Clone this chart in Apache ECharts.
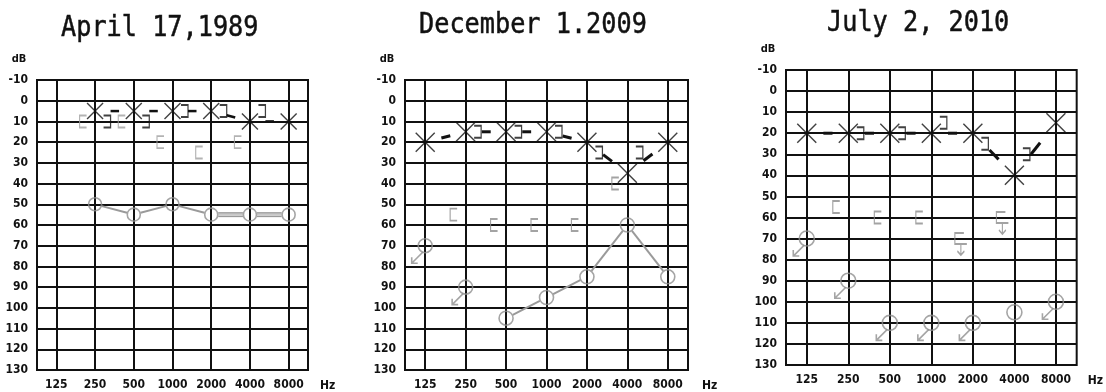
<!DOCTYPE html>
<html><head><meta charset="utf-8">
<script src="https://cdn.jsdelivr.net/npm/echarts@6/dist/echarts.min.js"></script>
<style>html,body{margin:0;padding:0;background:#fff}#c{width:1106px;height:392px}</style>
</head><body><div id="c"></div>
<script>
// ---- data ----
const freqLabels = ['125','250','500','1000','2000','4000','8000'];
const titles = ['April 17,1989', 'December 1.2009', 'July 2, 2010'];

// Panel 1 : April 17, 1989
const p1LeftAir     = [null, 5, 5, 5, 5, 10, 10];
const p1LeftBone    = [null, 10, 10, 5, 5, 5, null];
const p1RightAir    = [null, 50, 55, 50, 55, 55, 55];
const p1RightAirNR  = [0, 0, 0, 0, 0, 0, 0];
const p1RightBone   = [null, 10, 10, 20, 25, 20, null];
const p1RightBoneNR = [0, 0, 0, 0, 0, 0, 0];

// Panel 2 : December 1, 2009
const p2LeftAir     = [20, 15, 15, 15, 20, 35, 20];
const p2LeftBone    = [null, 15, 15, 15, 25, 25, null];
const p2RightAir    = [70, 90, 105, 95, 85, 60, 85];
const p2RightAirNR  = [1, 1, 0, 0, 0, 0, 0];
const p2RightBone   = [null, 55, 60, 60, 60, 40, null];
const p2RightBoneNR = [0, 0, 0, 0, 0, 0, 0];

// Panel 3 : July 2, 2010
const p3LeftAir     = [20, 20, 20, 20, 20, 40, 15];
const p3LeftBone    = [null, 20, 20, 15, 25, 30, null];
const p3RightAir    = [70, 90, 110, 110, 110, 105, 100];
const p3RightAirNR  = [1, 1, 1, 1, 1, 0, 1];
const p3RightBone   = [null, 55, 60, 60, 70, 60, null];
const p3RightBoneNR = [0, 0, 0, 0, 1, 1, 0];

// ---- layout / style ----
const layouts = [
  {grid:{left:37, top:80, width:271, height:292}, titleX:61, titleY:28, xSize:16, cSize:13, bracketGray:'#a0a0a0', linkW:2.5, doubleFrom:3, hzGap:12},
  {grid:{left:405, top:80, width:283, height:293}, titleX:419, titleY:25, xSize:19, cSize:14, bracketGray:'#8c8c8c', linkW:3, doubleFrom:null, hzGap:14},
  {grid:{left:786, top:70, width:293, height:295}, titleX:827, titleY:23, xSize:19, cSize:15, bracketGray:'#8c8c8c', linkW:3, doubleFrom:null, hzGap:11}
];
const panelData = [
  [p1LeftAir, p1LeftBone, p1RightAir, p1RightAirNR, p1RightBone, p1RightBoneNR],
  [p2LeftAir, p2LeftBone, p2RightAir, p2RightAirNR, p2RightBone, p2RightBoneNR],
  [p3LeftAir, p3LeftBone, p3RightAir, p3RightAirNR, p3RightBone, p3RightBoneNR]
];

const INK = '#111';
const GRAY = '#8e8e8e';
const labelFont = '"Liberation Sans Narrow", "DejaVu Sans Condensed", "Liberation Sans", sans-serif';

const SYM_X = 'path://M0 0L10 10M10 0L0 10';
const SYM_LB = 'path://M7 0L0 0L0 12L7 12';          // "[" masked bone (gray)
const SYM_RB = 'path://M0 0L7 0L7 12L0 12';          // "]" bone (black)
const SYM_ARROW = 'path://M11 0L0 11M0 5L0 11L6 11'; // no response, down-left
const SYM_LB_NR = 'path://M9 0L0 0L0 11L12 11M6 11L6 22M2.5 18L6 22L9.5 18';

function pts(vals, keep) {
  const out = [];
  vals.forEach((v, i) => { if (v != null && (!keep || keep(i))) out.push([i, v]); });
  return out;
}
function segments(vals, nr) {
  const out = [];
  for (let i = 0; i < vals.length - 1; i++) {
    if (vals[i] != null && vals[i + 1] != null && !(nr && (nr[i] || nr[i + 1])))
      out.push([i, vals[i], i + 1, vals[i + 1]]);
  }
  return out;
}
function linkSeries(gi, segs, opt) {
  return {
    type: 'custom', xAxisIndex: gi, yAxisIndex: gi, data: segs, silent: true, z: 3,
    encode: {x: [0, 2], y: [1, 3]},
    renderItem: (params, api) => {
      const a = api.coord([api.value(0), api.value(1)]);
      const b = api.coord([api.value(2), api.value(3)]);
      const dx = b[0] - a[0], dy = b[1] - a[1], len = Math.hypot(dx, dy);
      const ux = dx / len, uy = dy / len;
      let s, e;
      if (opt.frac) { s = opt.frac[0] * len; e = opt.frac[1] * len; }
      else { s = opt.trim; e = len - opt.trim; }
      const x1 = a[0] + ux * s, y1 = a[1] + uy * s, x2 = a[0] + ux * e, y2 = a[1] + uy * e;
      const style = {stroke: opt.color, lineWidth: opt.width, fill: null};
      if (opt.doubleFrom != null && params.dataIndex >= opt.doubleFrom) {
        const nx = -uy * 1.7, ny = ux * 1.7;
        return {type: 'group', children: [
          {type: 'line', shape: {x1: x1 + nx, y1: y1 + ny, x2: x2 + nx, y2: y2 + ny}, style: {stroke: opt.color, lineWidth: 1.6}},
          {type: 'line', shape: {x1: x1 - nx, y1: y1 - ny, x2: x2 - nx, y2: y2 - ny}, style: {stroke: opt.color, lineWidth: 1.6}},
          {type: 'line', shape: {x1, y1, x2, y2}, style: {stroke: '#c8c8c8', lineWidth: 1.6}}
        ]};
      }
      return {type: 'line', shape: {x1, y1, x2, y2}, style};
    }
  };
}
function strokeStyle(color, w) {
  return {color: 'rgba(0,0,0,0)', borderColor: color, borderWidth: w};
}

const grids = [], xAxes = [], yAxes = [], series = [], graphics = [];
layouts.forEach((L, gi) => {
  const [la, lb, ra, raNR, rb, rbNR] = panelData[gi];
  grids.push(Object.assign({show: true, borderColor: INK, borderWidth: 2, backgroundColor: 'transparent'}, L.grid));
  xAxes.push({
    gridIndex: gi, type: 'value', min: -0.5, max: 6.5, interval: 0.5, position: 'bottom',
    axisLine: {show: false, onZero: false}, axisTick: {show: false},
    splitLine: {show: true, lineStyle: {color: ['rgba(0,0,0,0)', INK], width: 2}},
    axisLabel: {
      margin: 9, color: INK, fontFamily: labelFont, fontWeight: 'bold', fontSize: 12,
      formatter: v => (Math.abs(v - Math.round(v)) < 1e-6 && freqLabels[Math.round(v)]) ? freqLabels[Math.round(v)] : ''
    },
    name: 'Hz', nameLocation: 'end', nameGap: L.hzGap,
    nameTextStyle: {color: INK, fontFamily: labelFont, fontWeight: 'bold', fontSize: 12, verticalAlign: 'top', padding: [10, 0, 0, 0]}
  });
  yAxes.push({
    gridIndex: gi, type: 'value', inverse: true, min: -10, max: 130, interval: 10,
    axisLine: {show: false, onZero: false}, axisTick: {show: false},
    splitLine: {show: true, lineStyle: {color: INK, width: 2}},
    axisLabel: {margin: 9, color: INK, fontFamily: labelFont, fontWeight: 'bold', fontSize: 12},
    name: 'dB', nameLocation: 'start', nameGap: 15,
    nameTextStyle: {color: INK, fontFamily: labelFont, fontWeight: 'bold', fontSize: 11, padding: [0, 36, 0, 0]}
  });
  graphics.push({
    type: 'text', x: L.titleX, y: L.titleY, scaleX: 0.87,
    style: {text: titles[gi], font: '29px "DejaVu Sans Mono", "Liberation Mono", monospace', fill: INK, align: 'left', verticalAlign: 'middle',
      stroke: INK, lineWidth: 0.5}
  });

  // links
  series.push(linkSeries(gi, segments(la), {frac: [0.4, 0.62], color: INK, width: L.linkW}));
  series.push(linkSeries(gi, segments(ra, raNR), {trim: L.cSize / 2 + 0.5, color: '#9a9a9a', width: 2, doubleFrom: L.doubleFrom}));

  // left air (X)
  series.push({type: 'scatter', xAxisIndex: gi, yAxisIndex: gi, z: 5, silent: true,
    symbol: SYM_X, symbolSize: L.xSize, itemStyle: strokeStyle(INK, 1.4), data: pts(la)});
  // left bone (])
  series.push({type: 'scatter', xAxisIndex: gi, yAxisIndex: gi, z: 5, silent: true,
    symbol: SYM_RB, symbolSize: [7, 12], symbolOffset: [12, 0], itemStyle: strokeStyle(INK, 1.6), data: pts(lb)});
  // right air (O)
  series.push({type: 'scatter', xAxisIndex: gi, yAxisIndex: gi, z: 5, silent: true,
    symbol: 'circle', symbolSize: L.cSize, itemStyle: strokeStyle(GRAY, 1.6), data: pts(ra)});
  // right air no-response arrows
  series.push({type: 'scatter', xAxisIndex: gi, yAxisIndex: gi, z: 5, silent: true,
    symbol: SYM_ARROW, symbolSize: 11, symbolOffset: [-8, 12], itemStyle: strokeStyle(GRAY, 1.6),
    data: pts(ra, i => raNR[i])});
  // right bone ([)
  series.push({type: 'scatter', xAxisIndex: gi, yAxisIndex: gi, z: 5, silent: true,
    symbol: SYM_LB, symbolSize: [7, 12], symbolOffset: [-12, 0], itemStyle: strokeStyle(L.bracketGray, 1.5),
    data: pts(rb, i => !rbNR[i])});
  // right bone no-response
  series.push({type: 'scatter', xAxisIndex: gi, yAxisIndex: gi, z: 5, silent: true,
    symbol: SYM_LB_NR, symbolSize: [12, 22], symbolOffset: [-12, 5.5], itemStyle: strokeStyle(L.bracketGray, 1.5),
    data: pts(rb, i => rbNR[i])});
});

const chart = echarts.init(document.getElementById('c'), null, {renderer: 'canvas'});
chart.setOption({
  animation: false,
  backgroundColor: '#fff',
  grid: grids, xAxis: xAxes, yAxis: yAxes, series: series, graphic: graphics
});
</script></body></html>
